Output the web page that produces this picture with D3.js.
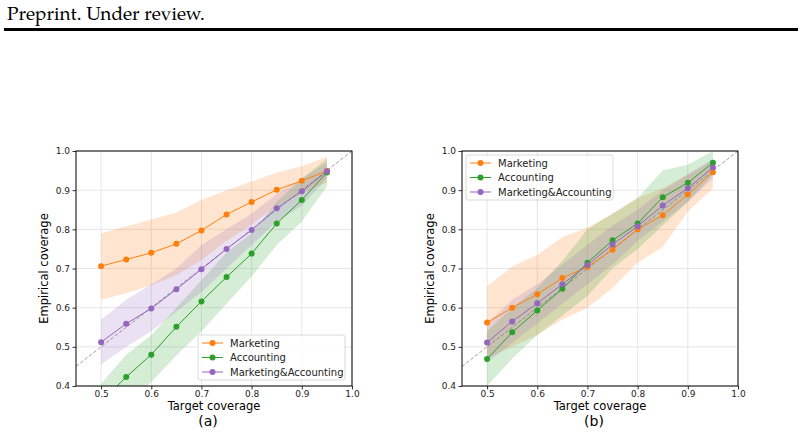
<!DOCTYPE html>
<html>
<head>
<meta charset="utf-8">
<script src="https://cdn.jsdelivr.net/npm/d3@7"></script>
<style>
  body { margin: 0; background: #fff; }
  svg text { font-family: "DejaVu Sans", sans-serif; }
</style>
</head>
<body>
<div id="chart-area"></div>
<script>
// target coverage levels (shared x values)
var targets = [0.5, 0.55, 0.6, 0.65, 0.7, 0.75, 0.8, 0.85, 0.9, 0.95];
var xTicks = [0.5, 0.6, 0.7, 0.8, 0.9, 1.0];
var yTicks = [0.4, 0.5, 0.6, 0.7, 0.8, 0.9, 1.0];
var seriesNames = ["Marketing", "Accounting", "Marketing&Accounting"];
var seriesColors = ["#ff7f0e", "#2ca02c", "#9467bd"];

// panel (a)
var aMarketing = [0.706, 0.723, 0.740, 0.763, 0.797, 0.838, 0.870, 0.901, 0.924, 0.949];
var aMarketingLo = [0.620, 0.637, 0.657, 0.683, 0.722, 0.770, 0.812, 0.860, 0.892, 0.920];
var aMarketingHi = [0.790, 0.808, 0.825, 0.843, 0.875, 0.900, 0.922, 0.945, 0.962, 0.985];
var aAccounting = [0.360, 0.423, 0.480, 0.551, 0.616, 0.678, 0.738, 0.815, 0.875, 0.945];
var aAccountingLo = [0.300, 0.350, 0.410, 0.478, 0.540, 0.610, 0.680, 0.760, 0.820, 0.910];
var aAccountingHi = [0.405, 0.480, 0.530, 0.600, 0.670, 0.740, 0.790, 0.870, 0.930, 0.980];
var aBoth = [0.512, 0.559, 0.598, 0.647, 0.698, 0.750, 0.798, 0.854, 0.897, 0.948];
var aBothLo = [0.455, 0.500, 0.540, 0.590, 0.640, 0.700, 0.760, 0.820, 0.860, 0.930];
var aBothHi = [0.570, 0.620, 0.660, 0.700, 0.760, 0.800, 0.840, 0.890, 0.930, 0.970];

// panel (b)
var bMarketing = [0.562, 0.600, 0.634, 0.676, 0.704, 0.748, 0.800, 0.836, 0.889, 0.946];
var bMarketingLo = [0.470, 0.500, 0.530, 0.570, 0.600, 0.650, 0.715, 0.755, 0.845, 0.905];
var bMarketingHi = [0.655, 0.705, 0.735, 0.780, 0.805, 0.840, 0.880, 0.905, 0.940, 0.975];
var bAccounting = [0.469, 0.537, 0.593, 0.648, 0.715, 0.772, 0.815, 0.882, 0.919, 0.970];
var bAccountingLo = [0.400, 0.470, 0.530, 0.580, 0.630, 0.700, 0.750, 0.810, 0.870, 0.940];
var bAccountingHi = [0.540, 0.600, 0.650, 0.720, 0.800, 0.840, 0.880, 0.950, 0.965, 1.000];
var bBoth = [0.511, 0.565, 0.611, 0.660, 0.709, 0.761, 0.808, 0.861, 0.905, 0.958];
var bBothLo = [0.460, 0.510, 0.560, 0.610, 0.660, 0.710, 0.770, 0.820, 0.870, 0.930];
var bBothHi = [0.560, 0.620, 0.660, 0.710, 0.760, 0.810, 0.850, 0.900, 0.940, 0.980];

var width = 804, height = 435;

var svg = d3.select("#chart-area").append("svg")
    .attr("width", width)
    .attr("height", height);

// header
svg.append("text")
    .attr("x", 7).attr("y", 20)
    .style("font-family", "'TeX Gyre Pagella', Palatino, 'Palatino Linotype', 'Liberation Serif', serif")
    .style("font-size", "19px")
    .text("Preprint. Under review.");
svg.append("rect")
    .attr("x", 4).attr("y", 28).attr("width", 794).attr("height", 3)
    .attr("fill", "#000");

function drawPanel(left, legendPos, caption, data, id) {
    var x = d3.scaleLinear().domain([0.45, 1.0]).range([left, left + 276]);
    var y = d3.scaleLinear().domain([0.4, 1.0]).range([386, 151]);

    var g = svg.append("g");

    g.append("clipPath").attr("id", "clip" + id)
        .append("rect")
        .attr("x", x(0.45)).attr("y", y(1.0))
        .attr("width", x(1.0) - x(0.45)).attr("height", y(0.4) - y(1.0));

    // grid
    g.selectAll(".gx").data(xTicks).enter().append("line")
        .attr("x1", function(d) { return x(d); }).attr("x2", function(d) { return x(d); })
        .attr("y1", y(0.4)).attr("y2", y(1.0))
        .attr("stroke", "#e6e6e6").attr("stroke-width", 1);
    g.selectAll(".gy").data(yTicks).enter().append("line")
        .attr("x1", x(0.45)).attr("x2", x(1.0))
        .attr("y1", function(d) { return y(d); }).attr("y2", function(d) { return y(d); })
        .attr("stroke", "#e6e6e6").attr("stroke-width", 1);

    var plot = g.append("g").attr("clip-path", "url(#clip" + id + ")");

    // bands
    var area = d3.area()
        .x(function(d) { return x(d.t); })
        .y0(function(d) { return y(d.lo); })
        .y1(function(d) { return y(d.hi); });
    data.forEach(function(s, i) {
        var pts = targets.map(function(t, j) { return {t: t, lo: s.lo[j], hi: s.hi[j]}; });
        plot.append("path").attr("d", area(pts))
            .attr("fill", seriesColors[i]).attr("fill-opacity", 0.2);
    });

    // diagonal
    plot.append("line")
        .attr("x1", x(0.45)).attr("y1", y(0.45))
        .attr("x2", x(1.0)).attr("y2", y(1.0))
        .attr("stroke", "#808080").attr("stroke-width", 0.8)
        .attr("stroke-dasharray", "3.5,2");

    // lines + markers
    var line = d3.line()
        .x(function(d) { return x(d.t); })
        .y(function(d) { return y(d.v); });
    data.forEach(function(s, i) {
        var pts = targets.map(function(t, j) { return {t: t, v: s.v[j]}; });
        plot.append("path").attr("d", line(pts))
            .attr("fill", "none").attr("stroke", seriesColors[i]).attr("stroke-width", 1);
        plot.selectAll(".m" + i).data(pts).enter().append("circle")
            .attr("cx", function(d) { return x(d.t); })
            .attr("cy", function(d) { return y(d.v); })
            .attr("r", 3)
            .attr("fill", seriesColors[i]);
    });

    // axes
    var xAxis = g.append("g").attr("transform", "translate(0," + y(0.4) + ")")
        .call(d3.axisBottom(x).tickValues(xTicks).tickFormat(d3.format(".1f")).tickSize(3.5).tickPadding(1.5));
    var yAxis = g.append("g").attr("transform", "translate(" + x(0.45) + ",0)")
        .call(d3.axisLeft(y).tickValues(yTicks).tickFormat(d3.format(".1f")).tickSize(3.5).tickPadding(2.5));
    [xAxis, yAxis].forEach(function(a) {
        a.select(".domain").remove();
        a.selectAll("text").style("font-size", "9px").attr("fill", "#222");
        a.selectAll("line").attr("stroke", "#000").attr("stroke-width", 0.8);
    });

    // frame
    g.append("rect")
        .attr("x", x(0.45)).attr("y", y(1.0))
        .attr("width", x(1.0) - x(0.45)).attr("height", y(0.4) - y(1.0))
        .attr("fill", "none").attr("stroke", "#000").attr("stroke-width", 1);

    // labels
    g.append("text")
        .attr("x", (x(0.45) + x(1.0)) / 2).attr("y", 410)
        .attr("text-anchor", "middle").style("font-size", "11.5px")
        .text("Target coverage");
    g.append("text")
        .attr("transform", "translate(" + (left - 28) + "," + ((y(0.4) + y(1.0)) / 2) + ")rotate(-90)")
        .attr("text-anchor", "middle").style("font-size", "11.5px")
        .text("Empirical coverage");
    g.append("text")
        .attr("x", (x(0.45) + x(1.0)) / 2 - 6).attr("y", 426)
        .attr("text-anchor", "middle")
        .style("font-size", "14px")
        .text(caption);

    // legend
    var lg = g.append("g").attr("transform", "translate(" + legendPos[0] + "," + legendPos[1] + ")");
    lg.append("rect")
        .attr("x", 0).attr("y", 0).attr("width", 147).attr("height", 45).attr("rx", 2)
        .attr("fill", "#fff").attr("fill-opacity", 0.8)
        .attr("stroke", "#d0d0d0").attr("stroke-width", 0.8);
    seriesNames.forEach(function(n, i) {
        var yy = 8 + i * 14.5;
        lg.append("line").attr("x1", 4).attr("x2", 25).attr("y1", yy).attr("y2", yy)
            .attr("stroke", seriesColors[i]).attr("stroke-width", 1);
        lg.append("circle").attr("cx", 14.5).attr("cy", yy).attr("r", 3).attr("fill", seriesColors[i]);
        lg.append("text").attr("x", 32).attr("y", yy).attr("dy", "0.35em")
            .style("font-size", "10px").attr("fill", "#222").text(n);
    });
}

drawPanel(76, [198, 335], "(a)", [
    {v: aMarketing, lo: aMarketingLo, hi: aMarketingHi},
    {v: aAccounting, lo: aAccountingLo, hi: aAccountingHi},
    {v: aBoth, lo: aBothLo, hi: aBothHi}
], "a");

drawPanel(462, [466, 155], "(b)", [
    {v: bMarketing, lo: bMarketingLo, hi: bMarketingHi},
    {v: bAccounting, lo: bAccountingLo, hi: bAccountingHi},
    {v: bBoth, lo: bBothLo, hi: bBothHi}
], "b");
</script>
</body>
</html>
